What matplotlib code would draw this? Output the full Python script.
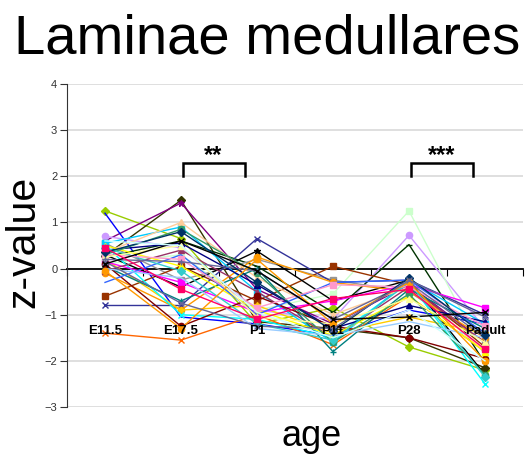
import numpy as np
import matplotlib
matplotlib.use("Agg")
import matplotlib.pyplot as plt

plt.rcParams['font.family'] = ['Liberation Sans', 'DejaVu Sans']

ages = ["E11.5", "E17.5", "P1", "P11", "P28", "Padult"]

# z-values per gene (E11.5, E17.5, P1, P11, P28, Padult)
z_values = [
    [1.25, 0.65, -1.20, -0.85, -1.70, -2.20],
    [0.28, 1.48, -1.15, -1.30, -1.50, -2.15],
    [0.60, 1.42, -0.45, -1.20, -0.35, -1.60],
    [1.20, -1.05, -1.20, -1.45, -0.90, -1.20],
    [0.70, 0.45, -0.90, -1.10, 0.72, -1.30],
    [0.10, 0.30, -0.90, -0.55, 1.25, -1.90],
    [0.25, 0.60, 0.05, -0.95, 0.52, -2.05],
    [0.55, -0.25, 0.20, -0.25, -0.50, -1.60],
    [-0.60, 0.05, -0.70, 0.05, -0.35, -1.70],
    [-0.80, -0.80, 0.65, -0.30, -0.25, -1.00],
    [0.30, -0.40, 0.38, -0.70, -0.25, -2.30],
    [-1.40, -1.55, -1.00, -1.65, -0.60, -1.80],
    [-0.10, -0.90, 0.25, -0.30, -0.50, -1.50],
    [0.20, -0.90, -0.80, -1.40, -1.05, -1.40],
    [0.50, -1.00, -1.10, -1.50, -0.30, -2.50],
    [0.55, 0.90, -0.50, -1.60, -0.25, -1.20],
    [0.35, 1.00, -0.20, -1.00, -0.40, -1.80],
    [0.15, -0.30, -0.95, -0.70, -0.35, -0.85],
    [-0.05, 0.40, -0.50, -1.50, -0.40, -1.60],
    [0.05, -0.70, 0.00, -1.80, -0.45, -1.30],
    [0.40, 0.55, -0.35, -1.30, -0.80, -1.15],
    [0.10, -1.25, -0.60, -1.25, -1.50, -1.95],
    [0.50, 0.05, -0.90, -1.45, -0.60, -1.80],
    [0.30, 0.85, -0.10, -1.60, -0.55, -2.30],
    [-0.30, 0.30, -1.00, -0.30, -0.25, -1.40],
    [0.45, -0.05, -1.20, -1.55, -0.30, -2.35],
    [0.30, 0.20, -0.85, -0.35, -0.40, -1.25],
    [0.00, -0.20, -1.30, -1.45, -1.15, -1.50],
    [0.25, 0.50, -1.05, -1.20, -0.65, -1.60],
    [0.20, 0.15, -0.05, -1.10, -0.30, -1.50],
    [0.35, 0.80, -0.30, -1.35, -0.20, -1.45],
    [-0.05, -1.30, 0.20, -1.20, -0.30, -2.00],
    [0.15, -0.75, -1.25, -1.30, -0.25, -1.05],
    [0.10, 0.60, -0.05, -1.10, -1.05, -0.95],
    [0.60, 0.50, -0.95, -1.50, -0.90, -2.00],
    [0.45, -0.45, -1.10, -0.65, -0.45, -1.75],
]

line_colors = [
    "#99CC00", "#333300", "#800080", "#0000FF", "#CC99FF", "#CCFFCC",
    "#003300", "#969696", "#993300", "#333399", "#000000", "#FF6600",
    "#FF9900", "#FFCC00", "#00FFFF", "#00CCFF", "#FFCC99", "#FF00FF",
    "#993366", "#008080", "#000080", "#800000", "#FFFF00", "#339966",
    "#3366FF", "#33CCCC", "#FF99CC", "#99CCFF", "#FFFF99", "#666699",
    "#003366", "#FF9900", "#666699", "#000000", "#CCFFFF", "#FF0066",
]
markers = [
    "D", "D", "*", "", "o", "s", "_", "s", "s", "x", "*", "x",
    "o", "*", "x", "s", "^", "s", "^", "+", "^", "o", "^", "o",
    "", "D", "s", "", "^", "+", "D", "o", "x", "x", "", "s",
]

sig_pairs = [(1, 2, "**"), (4, 5, "***")]

fig = plt.figure(figsize=(5.28, 4.59), dpi=100)
ax = fig.add_axes([67 / 528, 1 - 407 / 459, 456 / 528, 323 / 459])

x = np.arange(len(ages))
for vals, col, mk in zip(z_values, line_colors, markers):
    ax.plot(x, vals, color=col, lw=1.0, marker=mk if mk else None,
            markersize=4.5, markeredgewidth=1.0, zorder=3)

ax.set_xlim(-0.5, len(ages) - 0.5)
ax.set_ylim(-3, 4)
ax.set_yticks(range(-3, 5))
for yv in range(-3, 5):
    if yv != 0:
        ax.axhline(yv, color="#D9D9D9", lw=1.2, zorder=1)

ax.spines['top'].set_visible(False)
ax.spines['right'].set_visible(False)
ax.spines['left'].set_color("#333333")
ax.spines['bottom'].set_position(('data', 0))
ax.spines['bottom'].set_color("black")
ax.spines['bottom'].set_linewidth(1.3)
ax.spines['bottom'].set_zorder(2)
ax.set_xticks(np.arange(-0.5, len(ages), 1.0))
ax.set_xticklabels([])
ax.tick_params(axis='x', direction='out', length=5, color='black')
ax.tick_params(axis='y', direction='out', length=5, labelsize=8,
               labelcolor='#333333', color='#333333', pad=2)

for i, a in enumerate(ages):
    ax.text(i, -1.36, a, ha='center', va='center', fontsize=9.5,
            fontweight='bold', zorder=5)

# significance brackets
for a, b, stars in sig_pairs:
    x0 = a + 0.03
    x1 = b - 0.16
    ax.plot([x0, x0, x1, x1], [2.0, 2.28, 2.28, 2.0], color='black', lw=1.8,
            zorder=4, solid_joinstyle='miter')
    ax.text((x0 + x1) / 2 - 0.01, 2.3, stars, ha='center', va='baseline',
            fontsize=17, fontweight='bold')

fig.text(267 / 528, 1 - 53 / 459, "Laminae medullares", ha='center',
         va='baseline', fontsize=40.5)
fig.text(23 / 528, 1 - 242 / 459, "z-value", rotation=90, ha='center',
         va='center', fontsize=29.5)
fig.text(312 / 528, 1 - 446 / 459, "age", ha='center', va='baseline',
         fontsize=26)

fig.savefig("out.png", dpi=100)
